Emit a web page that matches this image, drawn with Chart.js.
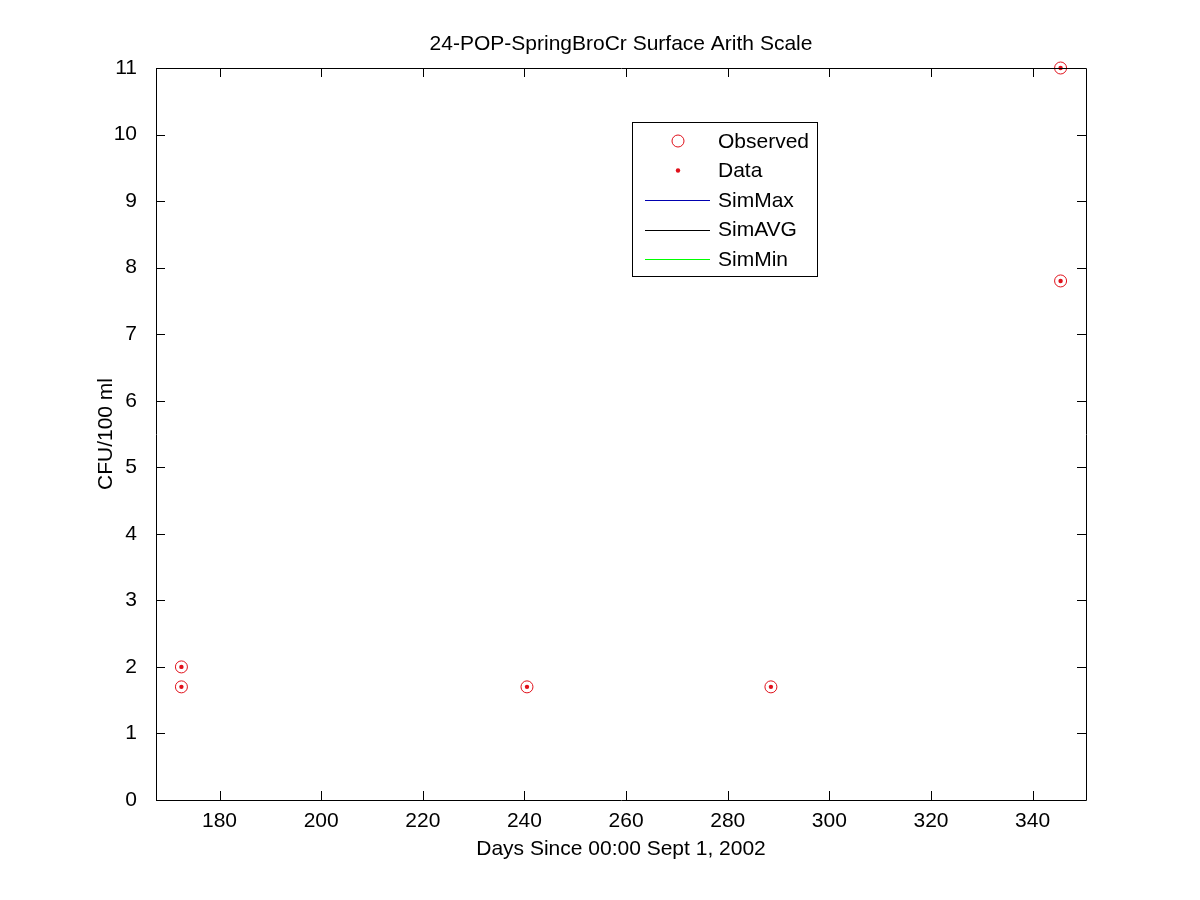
<!DOCTYPE html>
<html>
<head>
<meta charset="utf-8">
<title>24-POP-SpringBroCr Surface Arith Scale</title>
<script src="https://cdn.jsdelivr.net/npm/chart.js@4/dist/chart.umd.min.js"></script>
<style>
  body { margin: 0; background: #fff; }
  #chart { display: block; }
</style>
</head>
<body>
<canvas id="chart" width="1200" height="900"></canvas>
<script>
// observed samples (day since Sept 1 2002, CFU/100 ml)
const obsDays = [172.5, 172.5, 240.5, 288.5, 345.5, 345.5];
const obsValues = [2.0, 1.7, 1.7, 1.7, 11, 7.8];
// simulation series are empty in this plot
const simMax = [];
const simAvg = [];
const simMin = [];
const xTicks = [180, 200, 220, 240, 260, 280, 300, 320, 340];
const yTicks = [0, 1, 2, 3, 4, 5, 6, 7, 8, 9, 10, 11];
const legendLabels = ["Observed", "Data", "SimMax", "SimAVG", "SimMin"];
const titleText = "24-POP-SpringBroCr Surface Arith Scale";

const FONT = "'Liberation Sans', Arial, sans-serif";
const FSIZE = 21;

const points = obsDays.map((d, i) => ({ x: d, y: obsValues[i] }));

// title centred over the axes, MATLAB style
const axesTitle = {
  id: "axesTitle",
  afterDraw(chart) {
    const { ctx, chartArea: a } = chart;
    ctx.save();
    ctx.fillStyle = "#000";
    ctx.font = FSIZE + "px " + FONT;
    ctx.textAlign = "center";
    ctx.textBaseline = "middle";
    ctx.fillText(titleText, (a.left + a.right) / 2, 44);
    ctx.restore();
  }
};

// box with inward ticks on all four sides
const boxTicks = {
  id: "boxTicks",
  afterDraw(chart) {
    const { ctx, chartArea: a, scales } = chart;
    const len = 9;
    ctx.save();
    ctx.strokeStyle = "#000";
    ctx.lineWidth = 1;
    ctx.beginPath();
    ctx.rect(Math.round(a.left) + 0.5, Math.round(a.top) + 0.5,
      Math.round(a.right - a.left), Math.round(a.bottom - a.top));
    xTicks.forEach(v => {
      const x = Math.round(scales.x.getPixelForValue(v)) + 0.5;
      ctx.moveTo(x, a.bottom); ctx.lineTo(x, a.bottom - len);
      ctx.moveTo(x, a.top); ctx.lineTo(x, a.top + len);
    });
    yTicks.forEach(v => {
      const y = Math.round(scales.y.getPixelForValue(v)) + 0.5;
      ctx.moveTo(a.left, y); ctx.lineTo(a.left + len, y);
      ctx.moveTo(a.right, y); ctx.lineTo(a.right - len, y);
    });
    ctx.stroke();
    ctx.restore();
  }
};

// legend box drawn inside the axes
const boxLegend = {
  id: "boxLegend",
  afterDraw(chart) {
    const ctx = chart.ctx;
    const bx = 632.5, by = 122.5, bw = 185, bh = 154;
    ctx.save();
    ctx.fillStyle = "#fff";
    ctx.fillRect(bx, by, bw, bh);
    ctx.strokeStyle = "#000";
    ctx.lineWidth = 1;
    ctx.strokeRect(bx, by, bw, bh);
    ctx.font = FSIZE + "px " + FONT;
    ctx.textBaseline = "middle";
    ctx.textAlign = "left";
    chart.data.datasets.forEach((ds, i) => {
      const y = 141 + i * 29.5;
      const lx1 = 645, lx2 = 710, mx = 678;
      if (ds.showLine) {
        ctx.strokeStyle = ds.borderColor;
        ctx.lineWidth = 1;
        ctx.beginPath();
        ctx.moveTo(lx1, Math.round(y) + 0.5);
        ctx.lineTo(lx2, Math.round(y) + 0.5);
        ctx.stroke();
      } else if (ds.pointRadius > 3) {
        ctx.strokeStyle = ds.pointBorderColor;
        ctx.lineWidth = 1;
        ctx.beginPath();
        ctx.arc(mx, y, ds.pointRadius, 0, Math.PI * 2);
        ctx.stroke();
      } else {
        ctx.fillStyle = ds.pointBackgroundColor;
        ctx.beginPath();
        ctx.arc(mx, y, ds.pointRadius, 0, Math.PI * 2);
        ctx.fill();
      }
      ctx.fillStyle = "#000";
      ctx.fillText(ds.label, 718, y + 1);
    });
    ctx.restore();
  }
};

new Chart(document.getElementById("chart"), {
  type: "scatter",
  data: {
    datasets: [
      {
        label: legendLabels[0],
        data: points,
        pointStyle: "circle",
        pointRadius: 6,
        pointBorderWidth: 1,
        pointBorderColor: "#e0101a",
        pointBackgroundColor: "rgba(0,0,0,0)",
        clip: false,
      },
      {
        label: legendLabels[1],
        data: points,
        pointStyle: "circle",
        pointRadius: 2.2,
        pointBorderWidth: 0,
        pointBorderColor: "#e0101a",
        pointBackgroundColor: "#e0101a",
        clip: false,
      },
      {
        label: legendLabels[2],
        data: simMax,
        showLine: true,
        borderColor: "#0000b0",
        borderWidth: 1,
        pointRadius: 0,
      },
      {
        label: legendLabels[3],
        data: simAvg,
        showLine: true,
        borderColor: "#000000",
        borderWidth: 1,
        pointRadius: 0,
      },
      {
        label: legendLabels[4],
        data: simMin,
        showLine: true,
        borderColor: "#00ff00",
        borderWidth: 1,
        pointRadius: 0,
      },
    ],
  },
  options: {
    responsive: false,
    animation: false,
    layout: { padding: { left: 94, right: 114, top: 68, bottom: 38 } },
    plugins: {
      legend: { display: false },
      tooltip: { enabled: false },
      title: { display: false },
    },
    scales: {
      x: {
        type: "linear",
        min: 167.5,
        max: 350.5,
        afterBuildTicks: scale => { scale.ticks = xTicks.map(v => ({ value: v })); },
        afterFit: scale => { scale.height = 62; },
        grid: { display: false, drawTicks: false },
        border: { display: false },
        ticks: {
          color: "#000",
          padding: 9,
          maxRotation: 0,
          font: { family: FONT, size: FSIZE },
        },
        title: {
          display: true,
          text: "Days Since 00:00 Sept 1, 2002",
          color: "#000",
          font: { family: FONT, size: FSIZE },
          padding: { top: 0, bottom: 0 },
        },
      },
      y: {
        type: "linear",
        min: 0,
        max: 11,
        afterBuildTicks: scale => { scale.ticks = yTicks.map(v => ({ value: v })); },
        afterFit: scale => { scale.width = 62; },
        grid: { display: false, drawTicks: false },
        border: { display: false },
        ticks: {
          color: "#000",
          padding: 19,
          font: { family: FONT, size: FSIZE },
        },
        title: {
          display: true,
          text: "CFU/100 ml",
          color: "#000",
          font: { family: FONT, size: FSIZE },
          padding: { top: 0, bottom: 0 },
        },
      },
    },
  },
  plugins: [boxTicks, boxLegend, axesTitle],
});
</script>
</body>
</html>
